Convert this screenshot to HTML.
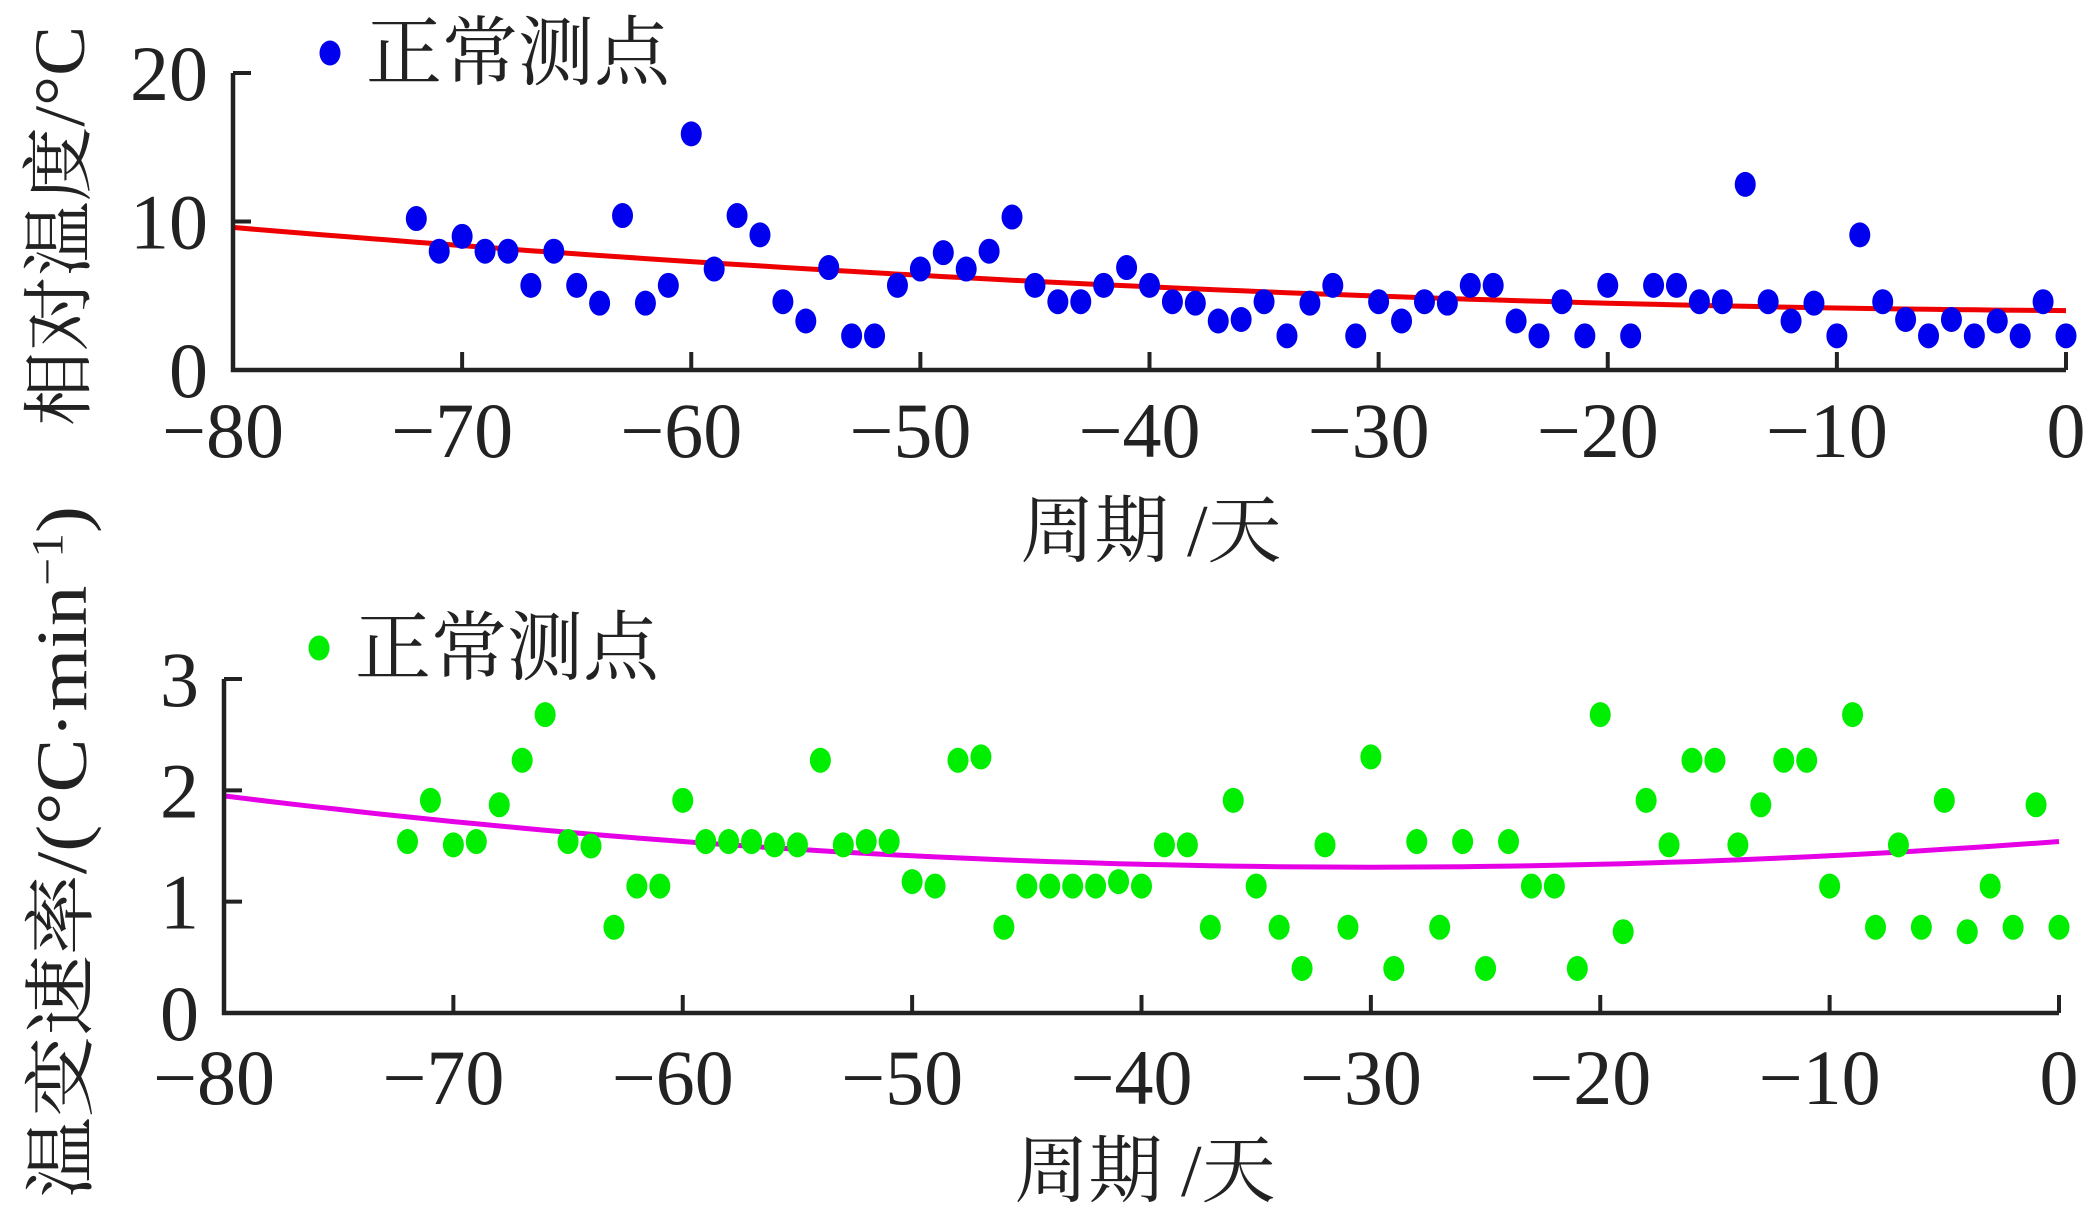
<!DOCTYPE html>
<html><head><meta charset="utf-8"><style>
html,body{margin:0;padding:0;background:#fff;}
svg{display:block;}
text{font-family:"Liberation Serif","Noto Serif CJK SC",serif;fill:#222;}
</style></head><body>
<svg id="chart" width="2087" height="1229" viewBox="0 0 2087 1229" xmlns="http://www.w3.org/2000/svg"></svg>
<script>
const days = [];
for (let d = -72; d <= 0; d++) days.push(d);
const tempValues = [10.2,8.0,9.0,8.0,8.0,5.7,8.0,5.7,4.5,10.4,4.5,5.7,15.9,6.8,10.4,9.1,4.6,3.3,6.9,2.3,2.3,5.7,6.8,7.9,6.8,8.0,10.3,5.7,4.6,4.6,5.7,6.9,5.7,4.6,4.5,3.3,3.4,4.6,2.3,4.5,5.7,2.3,4.6,3.3,4.6,4.5,5.7,5.7,3.3,2.3,4.6,2.3,5.7,2.3,5.7,5.7,4.6,4.6,12.5,4.6,3.3,4.5,2.3,9.1,4.6,3.4,2.3,3.4,2.3,3.3,2.3,4.6,2.3];
const rateValues = [1.54,1.91,1.51,1.54,1.87,2.27,2.68,1.54,1.50,0.77,1.14,1.14,1.91,1.54,1.54,1.54,1.51,1.51,2.27,1.51,1.54,1.54,1.18,1.14,2.27,2.30,0.77,1.14,1.14,1.14,1.14,1.18,1.14,1.51,1.51,0.77,1.91,1.14,0.77,0.40,1.51,0.77,2.30,0.40,1.54,0.77,1.54,0.40,1.54,1.14,1.14,0.40,2.68,0.73,1.91,1.51,2.27,2.27,1.51,1.87,2.27,2.27,1.14,2.68,0.77,1.51,0.77,1.91,0.73,1.14,0.77,1.87,0.77];
const xTicks = [-80,-70,-60,-50,-40,-30,-20,-10,0];
const tempTicks = [0,10,20];
const rateTicks = [0,1,2,3];
const tempFit = [0.00075,-0.01,4.0];   // a,b,c
const rateFit = [0.000256,0.01536,1.5404];

const NS="http://www.w3.org/2000/svg";
const svg=document.getElementById('chart');
function mk(tag,attrs,parent){const e=document.createElementNS(NS,tag);for(const k in attrs)e.setAttribute(k,attrs[k]);(parent||svg).appendChild(e);return e;}

function panel(cfg){
  const g=mk('g',{});
  
  
  const xs=v=>cfg.x0+(v+80)/80*(cfg.x1-cfg.x0);
  const ys=v=>cfg.y0-(v-cfg.ymin)/(cfg.ymax-cfg.ymin)*(cfg.y0-cfg.y1);
  let d='';
  for(let x=-80;x<=0;x+=1){const v=cfg.fit[0]*x*x+cfg.fit[1]*x+cfg.fit[2];d+=(x===-80?'M':'L')+xs(x).toFixed(1)+','+ys(v).toFixed(1);}
  const fl=mk('path',{d:d,fill:'none',stroke:cfg.lineColor,'stroke-width':5},g);
  
  
  cfg.vals.forEach((v,i)=>{
    const c=mk('ellipse',{cx:xs(days[i]),cy:ys(v),rx:10.5,ry:12.5,fill:cfg.dotColor},g);
    
    
  });
  const ax=mk('path',{d:`M${cfg.x0},${cfg.y1} V${cfg.y0} H${cfg.x1}`,fill:'none',stroke:'#222','stroke-width':4.5},g);
  
  
  xTicks.forEach(t=>{
    mk('line',{x1:xs(t),x2:xs(t),y1:cfg.y0,y2:cfg.y0-18,stroke:'#222','stroke-width':4},g);
    const tx=mk('text',{x:xs(t)-(t<0?10:0),y:cfg.xLabelY,'text-anchor':'middle','font-size':78},g);
    tx.textContent=(t<0?'\u2212':'')+Math.abs(t);
    
    
  });
  cfg.yTicks.forEach(t=>{
    mk('line',{x1:cfg.x0,x2:cfg.x0+18,y1:ys(t),y2:ys(t),stroke:'#222','stroke-width':4},g);
    const tx=mk('text',{x:cfg.x0-25,y:ys(t)+27,'text-anchor':'end','font-size':78},g);
    tx.textContent=t;
    
    
  });
  const ld=mk('ellipse',{cx:cfg.legX,cy:cfg.legY,rx:10.5,ry:12.5,fill:cfg.dotColor},g);
  
  
  const lt=mk('text',{x:cfg.legX+36,y:cfg.legY+26,'font-size':76},g);
  lt.textContent='正常测点';
  
  
  const xt=mk('text',{x:cfg.xTitleX,y:cfg.xTitleY,'text-anchor':'middle','font-size':74},g);
  xt.textContent='周期 /天';
  
  
  const yt=mk('text',{x:0,y:0,'text-anchor':'middle','font-size':cfg.yTitleSize,textLength:cfg.yTitleLen,lengthAdjust:'spacingAndGlyphs',transform:`translate(${cfg.yTitleX},${cfg.yTitleY}) rotate(-90)`},g);
  yt.innerHTML=cfg.yTitle;
  
  
}

panel({name:'temperature-panel',x0:233,x1:2066,y0:370,y1:73,ymin:0,ymax:20,vals:tempValues,yTicks:tempTicks,fit:tempFit,
  dotColor:'#0000ee',lineColor:'#ee0000',xLabelY:457,legX:330,legY:53,xTitleX:1151,xTitleY:556,
  yTitle:'相对温度/°C',yTitleX:84,yTitleY:226,yTitleSize:72,yTitleLen:400});
panel({name:'rate-panel',x0:224,x1:2059,y0:1013,y1:679,ymin:0,ymax:3,vals:rateValues,yTicks:rateTicks,fit:rateFit,
  dotColor:'#00ee00',lineColor:'#e600e6',xLabelY:1104,legX:319,legY:648,xTitleX:1145,xTitleY:1196,
  yTitle:'温变速率/(°C·min<tspan baseline-shift="super" font-size="44">−1</tspan>)',yTitleX:86,yTitleY:852,yTitleSize:72,yTitleLen:692});
</script>
</body></html>
